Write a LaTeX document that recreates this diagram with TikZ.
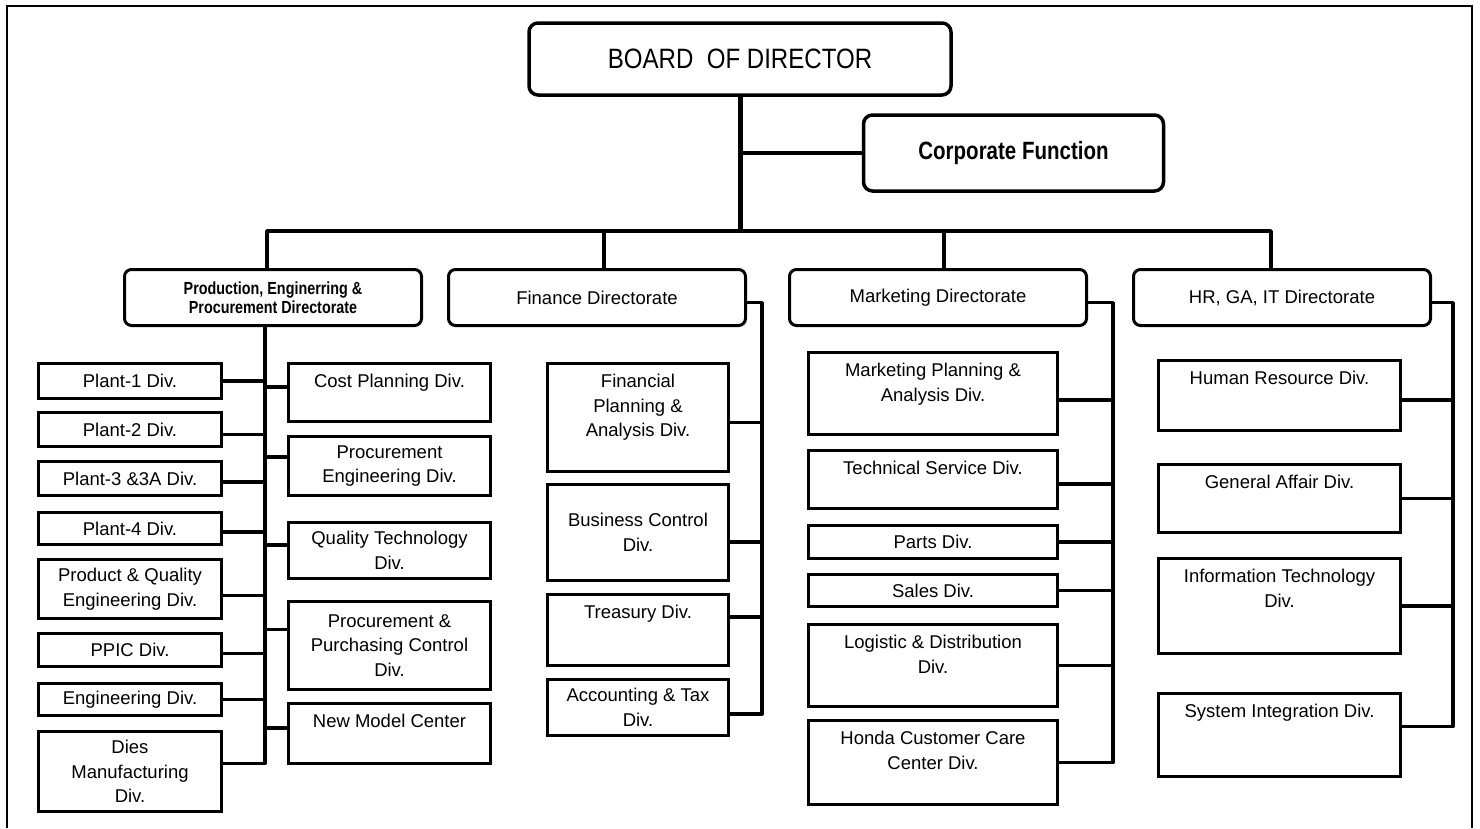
\documentclass[tikz,border=0pt]{standalone}
\usepackage{fontspec}
\setmainfont{Liberation Sans}
\newfontfamily\boardfont{Liberation Sans}[FakeStretch=0.86]
\newfontfamily\corpfont{Liberation Sans}[FakeStretch=0.82]
\usetikzlibrary{positioning}

\begin{document}
\begin{tikzpicture}[x=1pt, y=-1pt,
	every node/.style={font=\fontsize{18.5}{24.5}\selectfont, align=center},
	topbox/.style={draw, line width=3.5pt, rounded corners=9pt, inner sep=0pt},
	dirbox/.style={draw, line width=3pt, rounded corners=7pt, minimum width=297pt, minimum height=56pt, inner sep=0pt},
	divbox/.style={draw, line width=3pt, inner sep=0pt},
	lcol/.style={divbox, minimum width=183pt},
	rcol/.style={divbox, minimum width=202pt},
	fcol/.style={divbox, minimum width=181pt},
	mcol/.style={divbox, minimum width=249pt},
	hcol/.style={divbox, minimum width=242pt},
	toptext/.style={label={[anchor=north, inner sep=0pt, yshift=-12pt]north:{#1}}},
	link/.style={line width=3.5pt, line join=round},
	trunk/.style={line width=5pt}]
	\useasboundingbox (0,0) rectangle (1480,828);
	\draw[line width=2.5pt] (7,828) -- (7,6) -- (1472,6) -- (1472,828);

	\node[topbox, minimum width=422pt, minimum height=72pt, font=\boardfont\fontsize{28}{32}\selectfont] (board) at (740,59) {BOARD\ \ OF DIRECTOR};
	\node[topbox, minimum width=300pt, minimum height=76pt, font=\corpfont\bfseries\fontsize{25}{30}\selectfont] (corp) at (1013.5,153) {Corporate Function};

	\node[dirbox, font=\corpfont\bfseries\fontsize{17.5}{19}\selectfont] (prod) at (273,297.5) {Production, Enginerring \&\\Procurement Directorate};
	\node[dirbox] (fin) at (597,297.5) {Finance Directorate};
	\node[dirbox] (mkt) at (938,297.5) {Marketing Directorate};
	\node[dirbox] (hr) at (1282,297.5) {HR, GA, IT Directorate};

	\node[lcol, minimum height=35pt] (plant1) at (130,381) {Plant-1 Div.};
	\node[lcol, minimum height=34pt] (plant2) at (130,429.5) {Plant-2 Div.};
	\node[lcol, minimum height=34pt] (plant3) at (130,478.5) {Plant-3 \&3A Div.};
	\node[lcol, minimum height=32pt] (plant4) at (130,528.5) {Plant-4 Div.};
	\node[lcol, minimum height=59pt] (pqe) at (130,589) {Product \& Quality\\Engineering Div.};
	\node[lcol, minimum height=33pt] (ppic) at (130,650) {PPIC Div.};
	\node[lcol, minimum height=32pt] (engdiv) at (130,699.5) {Engineering Div.};
	\node[lcol, minimum height=80pt] (dies) at (130,771.5) {Dies\\Manufacturing\\Div.};

	\node[rcol, minimum height=58pt, toptext={Cost Planning Div.}] (cost) at (389.5,392.5) {};
	\node[rcol, minimum height=59pt] (proceng) at (389.5,466) {Procurement\\Engineering Div.};
	\node[rcol, minimum height=56pt] (qtd) at (389.5,550.5) {Quality Technology\\Div.};
	\node[rcol, minimum height=88pt] (ppc) at (389.5,645.5) {Procurement \&\\Purchasing Control\\Div.};
	\node[rcol, minimum height=60pt, toptext={New Model Center}] (nmc) at (389.5,733.5) {};

	\node[fcol, minimum height=108pt, toptext={Financial\\Planning \&\\Analysis Div.}] (fpa) at (638,417.5) {};
	\node[fcol, minimum height=96pt] (bcd) at (638,532.5) {Business Control\\Div.};
	\node[fcol, minimum height=71pt, toptext={Treasury Div.}] (tre) at (638,630) {};
	\node[fcol, minimum height=56pt] (acc) at (638,707.5) {Accounting \& Tax\\Div.};

	\node[mcol, minimum height=82pt, toptext={Marketing Planning \&\\Analysis Div.}] (mpa) at (933,393.5) {};
	\node[mcol, minimum height=58pt, toptext={Technical Service Div.}] (tsd) at (933,479.5) {};
	\node[mcol, minimum height=33pt] (parts) at (933,542) {Parts Div.};
	\node[mcol, minimum height=32pt] (sales) at (933,590.5) {Sales Div.};
	\node[mcol, minimum height=82pt, toptext={Logistic \& Distribution\\Div.}] (ldd) at (933,665.5) {};
	\node[mcol, minimum height=84pt, toptext={Honda Customer Care\\Center Div.}] (hcc) at (933,762.5) {};

	\node[hcol, minimum height=70pt, toptext={Human Resource Div.}] (hrd) at (1279.5,395.5) {};
	\node[hcol, minimum height=68pt, toptext={General Affair Div.}] (gad) at (1279.5,498.5) {};
	\node[hcol, minimum height=95pt, toptext={Information Technology\\Div.}] (itd) at (1279.5,606) {};
	\node[hcol, minimum height=83pt, toptext={System Integration Div.}] (sid) at (1279.5,735) {};

	% bus and spines
	\coordinate (busL) at (267,231);
	\coordinate (busR) at (1271,231);
	\coordinate (finDrop) at (604,231);
	\coordinate (mktDrop) at (944,231);
	\coordinate (pspine) at (265,0);
	\coordinate (fspine) at (762,0);
	\coordinate (mspine) at (1113,0);
	\coordinate (hspine) at (1453,0);

	\draw[trunk] (board.south) -- (board.south |- busL);
	\draw[link] (corp.west) -- (corp.west -| board.south);
	\draw[link] (busL |- prod.north) -- (busL) -- (busR) -- (busR |- hr.north);
	\draw[link] (finDrop) -- (finDrop |- fin.north);
	\draw[link] (mktDrop) -- (mktDrop |- mkt.north);

	\draw[link] (pspine |- prod.south) -- (pspine |- dies.5) -- (dies.5);
	\draw[link] (plant1.east) -- (plant1.east -| pspine);
	\draw[link] (plant2.357) -- (plant2.357 -| pspine);
	\draw[link] (plant3.358) -- (plant3.358 -| pspine);
	\draw[link] (plant4.358) -- (plant4.358 -| pspine);
	\draw[link] (pqe.356) -- (pqe.356 -| pspine);
	\draw[link] (ppic.358) -- (ppic.358 -| pspine);
	\draw[link] (engdiv.east) -- (engdiv.east -| pspine);
	\draw[link] (cost.177) -- (cost.177 -| pspine);
	\draw[link] (proceng.175) -- (proceng.175 -| pspine);
	\draw[link] (qtd.177) -- (qtd.177 -| pspine);
	\draw[link] (ppc.171) -- (ppc.171 -| pspine);
	\draw[link] (nmc.177) -- (nmc.177 -| pspine);

	\draw[link] (fin.358) -| (fspine |- acc.356) -- (acc.356);
	\draw[link] (fpa.357) -- (fpa.357 -| fspine);
	\draw[link] (bcd.354) -- (bcd.354 -| fspine);
	\draw[link] (tre.8) -- (tre.8 -| fspine);

	\draw[link] (mkt.358) -| (mspine |- hcc.east) -- (hcc.east);
	\draw[link] (mpa.357) -- (mpa.357 -| mspine);
	\draw[link] (tsd.358) -- (tsd.358 -| mspine);
	\draw[link] (parts.east) -- (parts.east -| mspine);
	\draw[link] (sales.east) -- (sales.east -| mspine);
	\draw[link] (ldd.east) -- (ldd.east -| mspine);

	\draw[link] (hr.358) -| (hspine |- sid.4) -- (sid.4);
	\draw[link] (hrd.358) -- (hrd.358 -| hspine);
	\draw[link] (gad.east) -- (gad.east -| hspine);
	\draw[link] (itd.east) -- (itd.east -| hspine);
\end{tikzpicture}
\end{document}
